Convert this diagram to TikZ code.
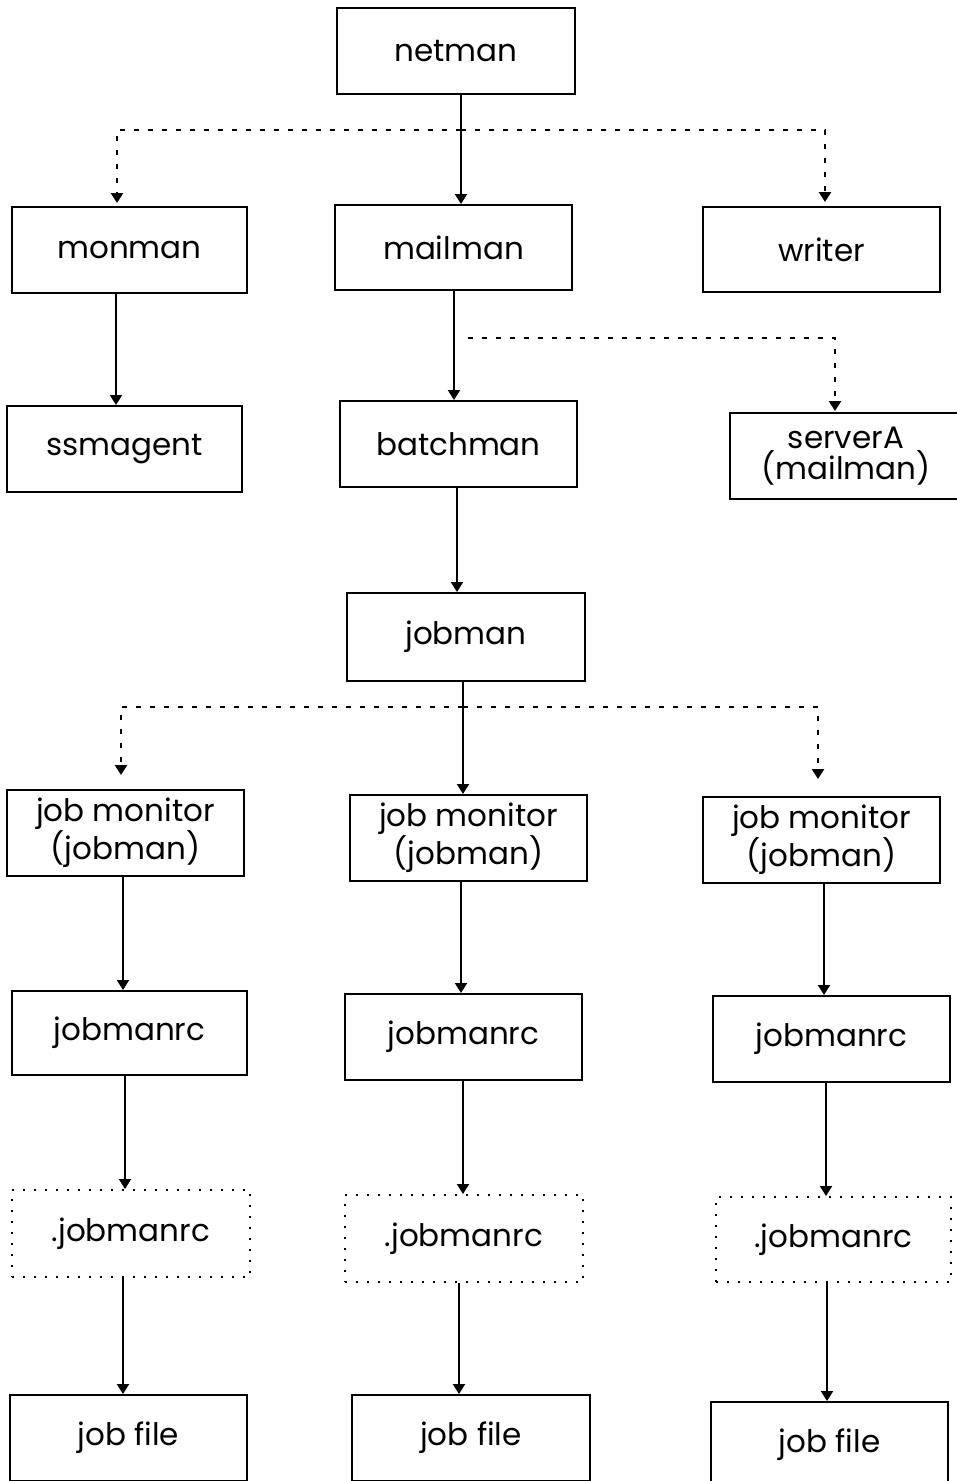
\documentclass[tikz,border=0pt]{standalone}
\usepackage{fontspec}
\setmainfont{Poppins}
\usetikzlibrary{arrows.meta}
\begin{document}
\begin{tikzpicture}[x=1pt,y=-1pt,
  box/.style={draw,line width=2pt,inner sep=0pt,align=center,font=\fontsize{31}{31}\selectfont},
  dbox/.style={box,dash pattern=on 2pt off 9pt},
  arr/.style={line width=2pt,-{Triangle[width=12pt,length=10pt]}},
  darr/.style={line width=2.5pt,dash pattern=on 5pt off 9pt,-{Triangle[width=12pt,length=10pt]}}]
\useasboundingbox (0,0) rectangle (957,1481);
\node[box,minimum width=238pt,minimum height=86pt] (netman) at (456,51) {netman};
\node[box,minimum width=235pt,minimum height=86pt] (monman) at (129.5,250) {monman};
\node[box,minimum width=237pt,minimum height=85pt] (mailman) at (453.5,247.5) {mailman};
\node[box,minimum width=237pt,minimum height=85pt] (writer) at (821.5,249.5) {writer};
\node[box,minimum width=235pt,minimum height=86pt] (ssmagent) at (124.5,449) {ssmagent};
\node[box,minimum width=237pt,minimum height=86pt] (batchman) at (458.5,444) {batchman};
\node[box,minimum width=232pt,minimum height=86pt] (serverA) at (846,456) {serverA\\(mailman)};
\node[box,minimum width=238pt,minimum height=88pt] (jobman) at (466,637) {jobman};
\node[box,minimum width=237pt,minimum height=86pt] (jm1) at (125.5,833) {job monitor\\(jobman)};
\node[box,minimum width=237pt,minimum height=86pt] (jm2) at (468.5,838) {job monitor\\(jobman)};
\node[box,minimum width=237pt,minimum height=86pt] (jm3) at (821.5,840) {job monitor\\(jobman)};
\node[box,minimum width=235pt,minimum height=84pt] (rc1) at (129.5,1033) {jobmanrc};
\node[box,minimum width=237pt,minimum height=86pt] (rc2) at (463.5,1037) {jobmanrc};
\node[box,minimum width=237pt,minimum height=86pt] (rc3) at (831.5,1039) {jobmanrc};
\node[dbox,minimum width=238pt,minimum height=87pt] (drc1) at (131,1233.5) {.jobmanrc};
\node[dbox,minimum width=238pt,minimum height=87pt] (drc2) at (464,1238.5) {.jobmanrc};
\node[dbox,minimum width=235pt,minimum height=85pt] (drc3) at (833.5,1239.5) {.jobmanrc};
\node[box,minimum width=237pt,minimum height=86pt] (jf1) at (128.5,1438) {job file};
\node[box,minimum width=238pt,minimum height=86pt] (jf2) at (471,1438) {job file};
\node[box,minimum width=237pt,minimum height=86pt] (jf3) at (829.5,1445) {job file};
% x positions of connectors
\coordinate (xa) at (461,0);
\coordinate (xb) at (116,0);
\coordinate (xc) at (454,0);
\coordinate (xd) at (457,0);
\coordinate (xe) at (463,0);
\coordinate (xf) at (123,0);
\coordinate (xg) at (824,0);
\coordinate (xh) at (125,0);
\coordinate (xi) at (826,0);
\coordinate (xj) at (459,0);
\coordinate (xk) at (827,0);
% dotted branch points
\coordinate (d1) at (461,130);
\coordinate (d1l) at (117,130);
\coordinate (d1r) at (825,130);
\coordinate (t1l) at (117,203);
\coordinate (t1r) at (825,202);
\coordinate (d2) at (468,338);
\coordinate (d2r) at (835,338);
\coordinate (t2r) at (835,411);
\coordinate (d3) at (463,707);
\coordinate (d3l) at (121,707);
\coordinate (d3r) at (818,707);
\coordinate (t3l) at (121,775);
\coordinate (t3r) at (818,779);
% solid connectors
\draw[arr] (netman.south -| xa) -- (mailman.north -| xa);
\draw[arr] (monman.south -| xb) -- (ssmagent.north -| xb);
\draw[arr] (mailman.south -| xc) -- (batchman.north -| xc);
\draw[arr] (batchman.south -| xd) -- (jobman.north -| xd);
\draw[arr] (jobman.south -| xe) -- (jm2.north -| xe);
\draw[arr] (jm1.south -| xf) -- (rc1.north -| xf);
\draw[arr] (jm2.south -| xa) -- (rc2.north -| xa);
\draw[arr] (jm3.south -| xg) -- (rc3.north -| xg);
\draw[arr] (rc1.south -| xh) -- (drc1.north -| xh);
\draw[arr] (rc2.south -| xe) -- (drc2.north -| xe);
\draw[arr] (rc3.south -| xi) -- (drc3.north -| xi);
\draw[arr] (drc1.south -| xf) -- (jf1.north -| xf);
\draw[arr] (drc2.south -| xj) -- (jf2.north -| xj);
\draw[arr] (drc3.south -| xk) -- (jf3.north -| xk);
% dotted connectors
\draw[darr] (d1) -- (d1l) -- (t1l);
\draw[darr] (d1) -- (d1r) -- (t1r);
\draw[darr] (d2) -- (d2r) -- (t2r);
\draw[darr] (d3) -- (d3l) -- (t3l);
\draw[darr] (d3) -- (d3r) -- (t3r);
\end{tikzpicture}
\end{document}
